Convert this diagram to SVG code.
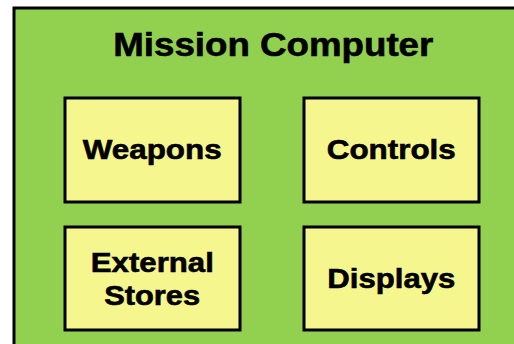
<svg xmlns="http://www.w3.org/2000/svg" width="514" height="344" viewBox="0 0 514 344">
<style>
.box{fill:#F6F68E;stroke:#000;stroke-width:3}
.t{font-family:"Liberation Sans",Arial,sans-serif;font-weight:bold;fill:#000;stroke:#000;stroke-width:0.6;text-anchor:middle}
.lbl{font-size:28px}
</style>
<rect width="514" height="344" fill="#fff"/>
<g id="mission-computer">
<rect x="14" y="8" width="510" height="350" fill="#92D050" stroke="#000" stroke-width="3"/>
<text class="t" x="273.3" y="56" font-size="34" textLength="320" lengthAdjust="spacingAndGlyphs">Mission Computer</text>
</g>
<g id="weapons">
<rect class="box" x="65" y="98" width="175" height="104"/>
<text class="t lbl" x="152.2" y="159.3" textLength="139" lengthAdjust="spacingAndGlyphs">Weapons</text>
</g>
<g id="controls">
<rect class="box" x="304" y="98" width="175" height="104"/>
<text class="t lbl" x="391.3" y="159.3" textLength="129" lengthAdjust="spacingAndGlyphs">Controls</text>
</g>
<g id="external-stores">
<rect class="box" x="65" y="227" width="175" height="103"/>
<text class="t lbl" x="152.3" y="271.7" textLength="123" lengthAdjust="spacingAndGlyphs">External</text>
<text class="t lbl" x="152.2" y="305" textLength="96" lengthAdjust="spacingAndGlyphs">Stores</text>
</g>
<g id="displays">
<rect class="box" x="304" y="227" width="175" height="103"/>
<text class="t lbl" x="391.3" y="288.3" textLength="128" lengthAdjust="spacingAndGlyphs">Displays</text>
</g>
<g id="connectors"/>
</svg>
